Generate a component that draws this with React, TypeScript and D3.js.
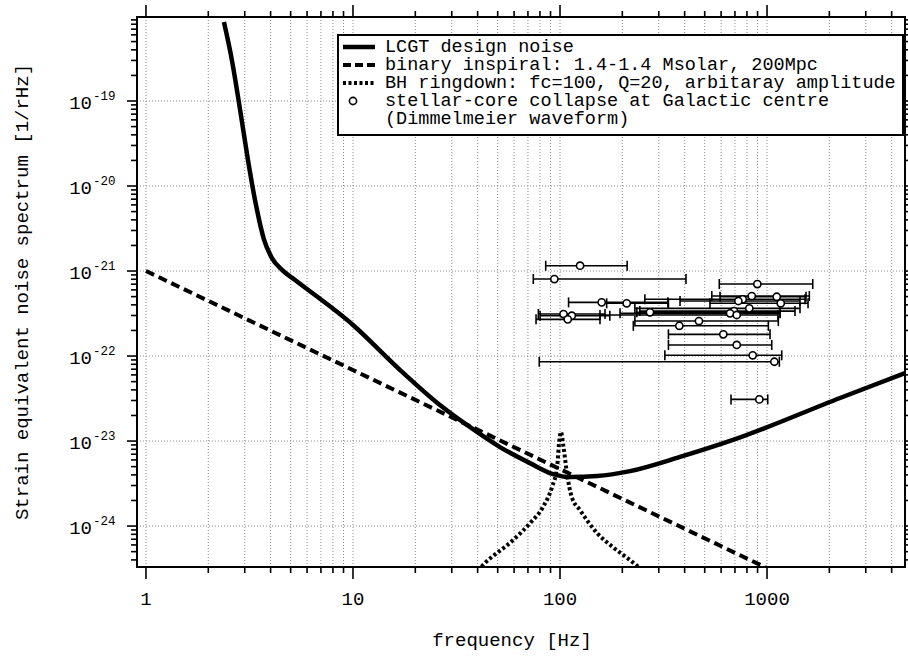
import React from "react";
import * as d3 from "d3";

const W = 908;
const H = 656;

// LCGT design sensitivity: frequency [Hz], strain [1/rHz]
const lcgtFreq = [2.38, 2.6, 2.85, 3.11, 3.4, 3.72, 4.06, 4.54, 5.25, 10, 16.9, 26.3, 39.7, 51.3, 71.6, 92.5, 112, 151, 218, 380, 685, 2253, 4640];
const lcgtStrain = [8.49e-19, 3.03e-19, 7.84e-20, 2.02e-20, 5.97e-21, 2.32e-21, 1.42e-21, 1.03e-21, 7.83e-22, 2.32e-22, 6.84e-23, 2.65e-23, 1.28e-23, 8.5e-24, 5.5e-24, 4.09e-24, 3.77e-24, 3.87e-24, 4.43e-24, 6.5e-24, 1.03e-23, 3.21e-23, 6.3e-23];

// Binary inspiral, 1.4-1.4 Msolar at 200 Mpc
const inspiralFreq = [1, 1000];
const inspiralStrain = [1e-21, 3.2e-25];

// BH ringdown, fc = 100 Hz, Q = 20 (arbitrary amplitude)
const ringFreq = [40, 43.4, 59.3, 71.6, 82.7, 91.5, 96.8, 99, 101, 104, 108, 114, 125, 151, 180, 218, 255];
const ringStrain = [3.0e-25, 3.67e-25, 6.84e-25, 1.08e-24, 1.67e-24, 2.88e-24, 4.94e-24, 9.5e-24, 1.28e-23, 8.5e-24, 4.2e-24, 2.19e-24, 1.54e-24, 8.28e-25, 5.66e-25, 3.98e-25, 2.9e-25];

// Stellar-core collapse at the Galactic centre (Dimmelmeier waveforms)
const collapseFreq = [125, 93.9, 898, 844, 1114, 763, 727, 1165, 159, 210, 821, 693, 663, 714, 272, 104, 114, 109, 469, 377, 615, 714, 853, 1085, 918];
const collapseLow = [85.3, 74.3, 588, 541, 593, 257, 380, 530, 110, 168, 230, 243, 195, 156, 235, 78.6, 80.1, 76.6, 230, 226, 334, 334, 321, 79.4, 670];
const collapseHigh = [211, 406, 1663, 1601, 1543, 1526, 1443, 1578, 332, 334, 1443, 1365, 1156, 1130, 1156, 165, 174, 156, 1134, 1015, 1034, 1054, 1178, 1147, 1008];
const collapseStrain = [1.155e-21, 8.05e-22, 7.03e-22, 5.08e-22, 4.98e-22, 4.65e-22, 4.44e-22, 4.17e-22, 4.28e-22, 4.17e-22, 3.64e-22, 3.38e-22, 3.18e-22, 3.04e-22, 3.27e-22, 3.12e-22, 2.98e-22, 2.7e-22, 2.58e-22, 2.27e-22, 1.8e-22, 1.35e-22, 1.02e-22, 8.57e-23, 3.09e-23];

const xMajor = [1, 10, 100, 1000];
const xMajorLabels = ["1", "10", "100", "1000"];
const yMajorExp = [-24, -23, -22, -21, -20, -19];

const legendLabels = [
  "LCGT design noise",
  "binary inspiral: 1.4-1.4 Msolar, 200Mpc",
  "BH ringdown: fc=100, Q=20, arbitaray amplitude",
  "stellar-core collapse at Galactic centre",
  "(Dimmelmeier waveform)",
];

const FONT = "'Courier New', 'Liberation Mono', monospace";

export default function App() {
  const left = 137, right = 905, top = 17, bottom = 567;
  const x = d3.scaleLog().domain([0.905, 4640]).range([left, right]);
  const y = d3.scaleLog().domain([3.3e-25, 9.73e-19]).range([bottom, top]);

  const smooth = d3
    .line<[number, number]>()
    .x((d) => x(d[0]))
    .y((d) => y(d[1]))
    .curve(d3.curveMonotoneX);
  const straight = d3
    .line<[number, number]>()
    .x((d) => x(d[0]))
    .y((d) => y(d[1]));

  const lcgt = smooth(lcgtFreq.map((f, i) => [f, lcgtStrain[i]]))!;
  const inspiral = straight(inspiralFreq.map((f, i) => [f, inspiralStrain[i]]))!;
  const ring = smooth(ringFreq.map((f, i) => [f, ringStrain[i]]))!;

  // tick positions: 1..9 per decade
  const xTicks: number[] = [];
  for (let e = 0; e <= 3; e++) for (let k = 1; k <= 9; k++) xTicks.push(k * Math.pow(10, e));
  const xTicksIn = xTicks.filter((v) => v >= 0.905 && v <= 4640);
  const yTicks: number[] = [];
  for (let e = -25; e <= -19; e++) for (let k = 1; k <= 9; k++) yTicks.push(k * Math.pow(10, e));
  const yTicksIn = yTicks.filter((v) => v >= 3.3e-25 && v <= 9.73e-19);
  const isMajor = (v: number) => Math.abs(Math.log10(v) - Math.round(Math.log10(v))) < 1e-6;

  const legX = 338, legY = 35, legW = 565, legH = 100;
  const rowY = (i: number) => legY + 17 + i * 18;

  return (
    <svg
      width={W}
      height={H}
      style={{ position: "absolute", left: 0, top: 0, background: "#fff" }}
      fontFamily={FONT}
    >
      <defs>
        <clipPath id="plot-area">
          <rect x={left} y={top} width={right - left} height={bottom - top} />
        </clipPath>
      </defs>
      <rect x={0} y={0} width={W} height={H} fill="#fff" />

      {/* grid */}
      <g stroke="#8a8a8a" strokeWidth={1} strokeDasharray="1,2">
        {xTicksIn.map((v, i) => (
          <line key={"gx" + i} x1={x(v)} x2={x(v)} y1={top} y2={bottom} />
        ))}
        {yMajorExp.map((e) => (
          <line key={"gy" + e} x1={left} x2={right} y1={y(Math.pow(10, e))} y2={y(Math.pow(10, e))} />
        ))}
      </g>

      {/* curves */}
      <g clipPath="url(#plot-area)" fill="none" stroke="#000">
        <path d={lcgt} strokeWidth={4.5} />
        <path d={inspiral} strokeWidth={4} strokeDasharray="9,5" />
        <path d={ring} strokeWidth={4} strokeDasharray="3,2.5" />
      </g>

      {/* stellar-core collapse points with frequency ranges */}
      <g stroke="#000" strokeWidth={1.6}>
        {collapseFreq.map((f, i) => {
          const yy = y(collapseStrain[i]);
          const x1 = x(collapseLow[i]);
          const x2 = x(collapseHigh[i]);
          return (
            <g key={"c" + i}>
              <line x1={x1} x2={x2} y1={yy} y2={yy} />
              <line x1={x1} x2={x1} y1={yy - 5} y2={yy + 5} />
              <line x1={x2} x2={x2} y1={yy - 5} y2={yy + 5} />
            </g>
          );
        })}
        {collapseFreq.map((f, i) => (
          <circle key={"p" + i} cx={x(f)} cy={y(collapseStrain[i])} r={3.6} fill="#fff" />
        ))}
      </g>

      {/* legend */}
      <g>
        <rect x={legX} y={legY} width={legW} height={legH} fill="#fff" stroke="#000" strokeWidth={2} />
        <line x1={343} x2={375} y1={rowY(0) - 5} y2={rowY(0) - 5} stroke="#000" strokeWidth={4.5} />
        <line x1={343} x2={375} y1={rowY(1) - 5} y2={rowY(1) - 5} stroke="#000" strokeWidth={4} strokeDasharray="8,4" />
        <line x1={343} x2={375} y1={rowY(2) - 5} y2={rowY(2) - 5} stroke="#000" strokeWidth={4} strokeDasharray="3,2.5" />
        <circle cx={353} cy={rowY(3) - 5} r={3.6} fill="#fff" stroke="#000" strokeWidth={1.6} />
        {legendLabels.map((t, i) => (
          <text key={"l" + i} x={385} y={rowY(i)} fontSize={18.5} fill="#000" xmlSpace="preserve">
            {t}
          </text>
        ))}
      </g>

      {/* frame */}
      <rect x={left} y={top} width={right - left} height={bottom - top} fill="none" stroke="#000" strokeWidth={2} />

      {/* ticks */}
      <g stroke="#000" strokeWidth={1.6}>
        {xTicksIn.map((v, i) => {
          const len = isMajor(v) ? 12 : 6;
          return (
            <g key={"tx" + i}>
              <line x1={x(v)} x2={x(v)} y1={bottom} y2={bottom + len} />
              <line x1={x(v)} x2={x(v)} y1={top} y2={top - len} />
            </g>
          );
        })}
        {yTicksIn.map((v, i) => {
          const len = isMajor(v) ? 10 : 6;
          return (
            <g key={"ty" + i}>
              <line x1={left} x2={left - len} y1={y(v)} y2={y(v)} />
              <line x1={right} x2={right + len} y1={y(v)} y2={y(v)} />
            </g>
          );
        })}
      </g>

      {/* x tick labels */}
      {xMajor.map((v, i) => (
        <text key={"xl" + i} x={x(v)} y={605} textAnchor="middle" fontSize={19} fill="#000">
          {xMajorLabels[i]}
        </text>
      ))}

      {/* y tick labels */}
      {yMajorExp.map((e) => {
        const yy = y(Math.pow(10, e));
        return (
          <g key={"yl" + e}>
            <text x={92} y={yy + 8} textAnchor="end" fontSize={19} fill="#000">
              10
            </text>
            <text x={93} y={yy - 1} textAnchor="start" fontSize={12.5} fill="#000">
              {String(e)}
            </text>
          </g>
        );
      })}

      {/* axis titles */}
      <text x={512} y={646} textAnchor="middle" fontSize={19} fill="#000">
        frequency [Hz]
      </text>
      <text
        transform={`translate(28, ${(top + bottom) / 2}) rotate(-90)`}
        textAnchor="middle"
        fontSize={19}
        fill="#000"
      >
        Strain equivalent noise spectrum [1/rHz]
      </text>
    </svg>
  );
}
